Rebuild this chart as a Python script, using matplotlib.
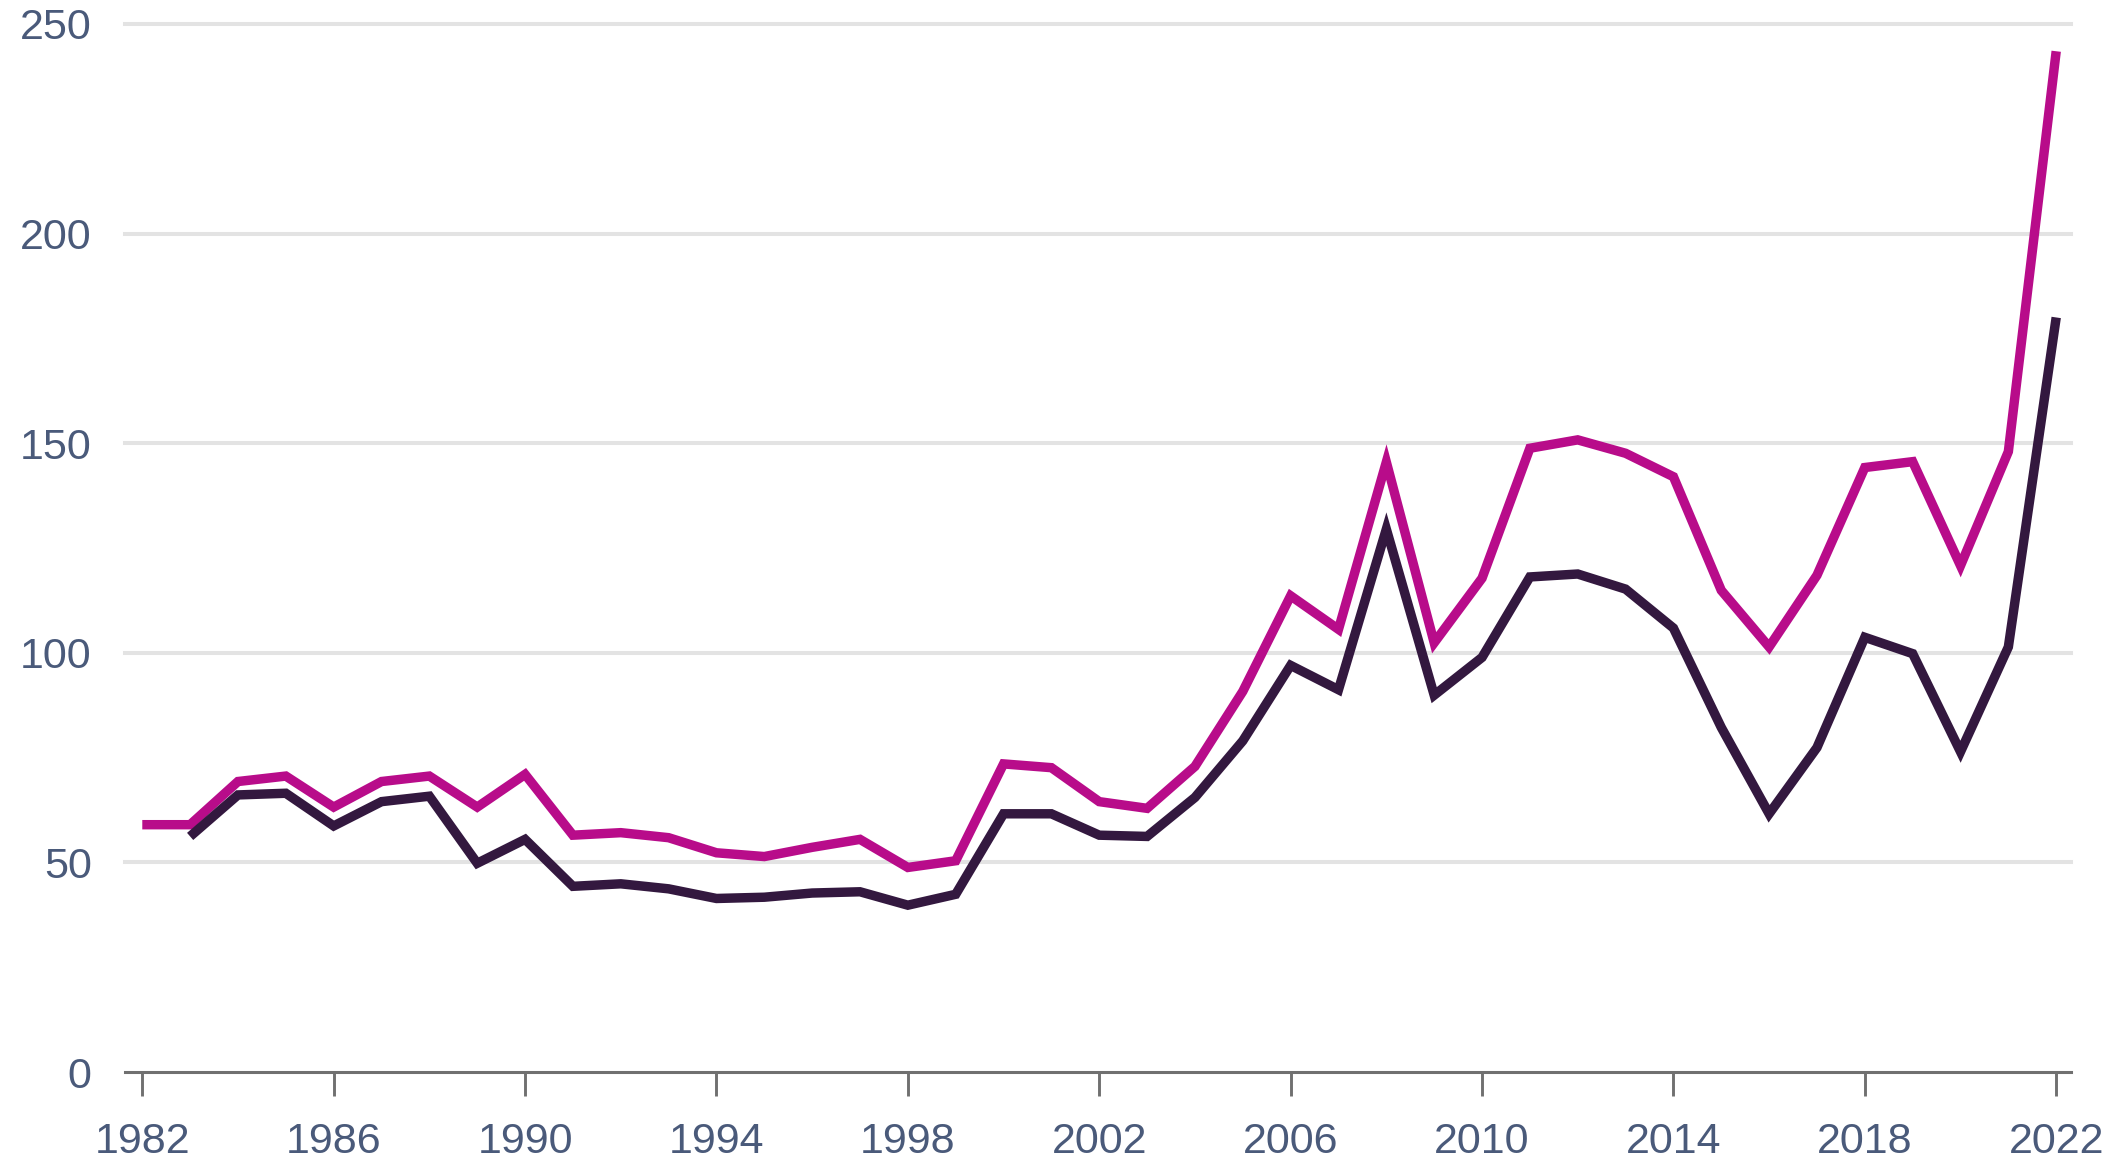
import numpy as np
import matplotlib
matplotlib.use('Agg')
import matplotlib.pyplot as plt
from matplotlib import font_manager

YEARS = list(range(1982, 2023))

# upper (magenta) series
SERIES_TOP = [59.0, 59.0, 69.3, 70.6, 63.2, 69.3, 70.6, 63.2, 71.0, 56.5,
              57.1, 55.9, 52.3, 51.4, 53.6, 55.5, 48.8, 50.4, 73.5, 72.6,
              64.5, 62.9, 72.9, 90.8, 113.6, 105.6, 145.5, 102.4, 117.8, 148.8,
              150.8, 147.6, 142.0, 114.9, 101.4, 118.5, 144.2, 145.6, 120.8, 148.0,
              243.5]

# lower (dark) series, starts in 1983
SERIES_LOW = [np.nan, 56.2, 66.1, 66.5, 58.7, 64.5, 65.8, 49.8, 55.5, 44.3,
              44.9, 43.7, 41.4, 41.7, 42.7, 43.0, 39.8, 42.4, 61.6, 61.6,
              56.5, 56.2, 65.5, 79.0, 97.0, 91.2, 129.5, 89.9, 98.9, 118.1,
              118.8, 115.2, 105.9, 82.2, 61.6, 77.4, 103.7, 99.8, 76.4, 101.4,
              180.0]

X_TICKS = list(range(1982, 2023, 4))
Y_TICKS = [0, 50, 100, 150, 200, 250]

MAGENTA = '#B80C8A'
DARK = '#33183F'
TEXT_COL = '#4A5A7A'
GRID_COL = '#E3E3E3'

installed = {f.name for f in font_manager.fontManager.ttflist}
fams = [f for f in ['Liberation Sans Narrow', 'Liberation Sans', 'DejaVu Sans'] if f in installed]
plt.rcParams['font.family'] = fams

fig = plt.figure(figsize=(21.09, 11.65), dpi=100)
ax = fig.add_axes([0.0593, 0.0798, 0.9227, 0.8996])

ax.plot(YEARS, SERIES_TOP, color=MAGENTA, lw=6.8, solid_joinstyle='miter',
        solid_capstyle='butt', zorder=3)
ax.plot(YEARS, SERIES_LOW, color=DARK, lw=6.8, solid_joinstyle='miter',
        solid_capstyle='butt', zorder=3)

ax.set_xlim(1981.64, 2022.31)
ax.set_ylim(0, 250)

ax.set_yticks(Y_TICKS)
ax.set_xticks(X_TICKS)
ax.set_xticklabels([str(y) for y in X_TICKS])

for y in Y_TICKS[1:]:
    ax.axhline(y, color=GRID_COL, lw=2.9, zorder=1, clip_on=False)

for s in ['top', 'right', 'left']:
    ax.spines[s].set_visible(False)
ax.spines['bottom'].set_color('#707070')
ax.spines['bottom'].set_linewidth(2.2)

ax.tick_params(axis='y', length=0, pad=24, labelsize=31, labelcolor=TEXT_COL)
ax.tick_params(axis='x', length=17, width=2.1, color='#707070', pad=19,
               labelsize=31, labelcolor=TEXT_COL)

fig.savefig('out.png', dpi=100, facecolor='white')
